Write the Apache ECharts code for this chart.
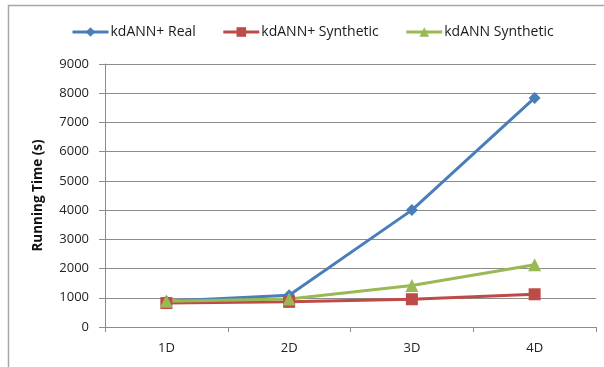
<!DOCTYPE html>
<html><head><meta charset="utf-8">
<script src="https://cdn.jsdelivr.net/npm/echarts@6/dist/echarts.min.js"></script>
<style>html,body{margin:0;padding:0;background:#fff}#c{width:604px;height:367px}</style>
</head><body><div id="c"></div>
<script>
const categories = ['1D', '2D', '3D', '4D'];
const kdannPlusReal = [880, 1090, 4000, 7840];
const kdannPlusSynthetic = [820, 860, 950, 1120];
const kdannSynthetic = [880, 960, 1420, 2130];
const yTicks = [0, 1000, 2000, 3000, 4000, 5000, 6000, 7000, 8000, 9000];

const chart = echarts.init(document.getElementById('c'), null, {renderer: 'canvas'});
const font = '"Open Sans", "Noto Sans", sans-serif';
chart.setOption({
  animation: false,
  backgroundColor: '#fff',
  graphic: [{
    type: 'polyline', silent: true,
    shape: {points: [[8.5, 380], [8.5, 5.5], [620, 5.5]]},
    style: {stroke: '#a6a6a6', lineWidth: 1.5, fill: null}
  }],
  legend: {
    top: 20, left: 66, itemWidth: 36, itemHeight: 12, itemGap: 26,
    lineStyle: {width: 3},
    textStyle: {fontFamily: font, fontSize: 14, color: '#1a1a1a', padding: [0,0,0,-3]},
    data: ['kdANN+ Real', 'kdANN+ Synthetic', 'kdANN Synthetic']
  },
  grid: {left: 105, right: 8, top: 64, bottom: 40},
  xAxis: {
    type: 'category', data: categories, boundaryGap: true,
    axisLine: {lineStyle: {color: '#8c8c8c', width: 1}},
    axisTick: {show: true, length: 5, lineStyle: {color: '#8c8c8c'}},
    axisLabel: {fontFamily: font, fontSize: 13, color: '#222', margin: 15}
  },
  yAxis: {
    type: 'value', min: yTicks[0], max: yTicks[yTicks.length - 1], interval: 1000,
    name: 'Running Time (s)', nameLocation: 'middle', nameGap: 60,
    nameTextStyle: {fontFamily: font, fontSize: 13.5, fontWeight: 'bold', color: '#111'},
    axisLine: {show: true, lineStyle: {color: '#8c8c8c'}},
    axisTick: {show: true, length: 6, lineStyle: {color: '#8c8c8c'}},
    axisLabel: {fontFamily: font, fontSize: 13, color: '#222', margin: 16, formatter: v => String(v)},
    splitLine: {lineStyle: {color: '#8c8c8c', width: 1}}
  },
  series: [
    {name: 'kdANN+ Real', type: 'line', data: kdannPlusReal, symbol: 'diamond', symbolSize: 12,
     lineStyle: {color: '#4a7ebb', width: 3}, itemStyle: {color: '#4a7ebb'}},
    {name: 'kdANN+ Synthetic', type: 'line', data: kdannPlusSynthetic, symbol: 'rect', symbolSize: 12,
     lineStyle: {color: '#be4b48', width: 3}, itemStyle: {color: '#be4b48'}},
    {name: 'kdANN Synthetic', type: 'line', data: kdannSynthetic, symbol: 'triangle', symbolSize: 13,
     lineStyle: {color: '#98b954', width: 3}, itemStyle: {color: '#98b954'}}
  ]
});
</script></body></html>
